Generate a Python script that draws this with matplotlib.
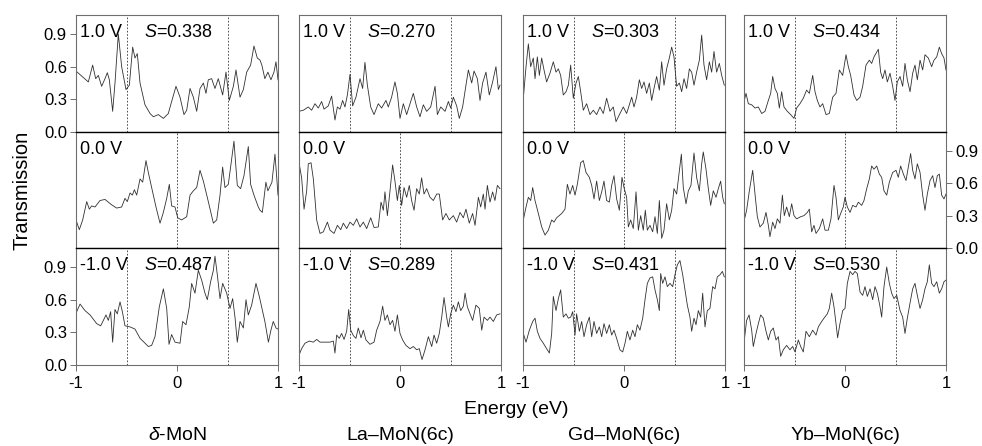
import matplotlib
matplotlib.use('Agg')
import matplotlib.pyplot as plt

plt.rcParams['font.family'] = ['Liberation Sans', 'DejaVu Sans']
plt.rcParams['mathtext.fontset'] = 'custom'
plt.rcParams['mathtext.rm'] = 'Liberation Sans'
plt.rcParams['mathtext.it'] = 'Liberation Sans:italic'

# ---- data: energy (eV) and transmission ----
# delta-MoN
dmon_e_p = [-1.00, -0.878, -0.835, -0.805, -0.779, -0.746, -0.713, -0.690, -0.670, -0.637,
            -0.614, -0.581, -0.548, -0.505, -0.472, -0.439, -0.416, -0.393, -0.366, -0.317,
            -0.267, -0.234, -0.185, -0.135, -0.086, -0.053, -0.010, 0.030, 0.069, 0.096,
            0.129, 0.162, 0.195, 0.228, 0.261, 0.287, 0.310, 0.343, 0.376, 0.409,
            0.452, 0.485, 0.518, 0.558, 0.584, 0.624, 0.657, 0.690, 0.729, 0.762,
            0.795, 0.822, 0.84, 0.87, 0.90, 0.93, 0.96, 0.98, 1.0]
dmon_t_p = [0.56, 0.46, 0.615, 0.49, 0.52, 0.42, 0.49, 0.545, 0.48, 0.19,
            0.45, 0.90, 0.60, 0.39, 0.43, 0.78, 0.68, 0.72, 0.45, 0.25,
            0.17, 0.14, 0.16, 0.125, 0.17, 0.28, 0.42, 0.32, 0.16, 0.20,
            0.40, 0.32, 0.19, 0.40, 0.45, 0.355, 0.48, 0.49, 0.40, 0.49,
            0.34, 0.55, 0.29, 0.42, 0.57, 0.32, 0.39, 0.55, 0.615, 0.79,
            0.68, 0.66, 0.615, 0.49, 0.55, 0.48, 0.55, 0.645, 0.48]
dmon_e_0 = [-0.993, -0.967, -0.934, -0.894, -0.868, -0.845, -0.812, -0.762, -0.713, -0.647,
            -0.597, -0.548, -0.515, -0.492, -0.465, -0.442, -0.422, -0.399, -0.366, -0.340,
            -0.307, -0.284, -0.251, -0.208, -0.168, -0.135, -0.102, -0.076, -0.053, -0.020,
            0.007, 0.046, 0.096, 0.129, 0.162, 0.195, 0.228, 0.261, 0.310, 0.360,
            0.393, 0.426, 0.452, 0.475, 0.508, 0.535, 0.564, 0.597, 0.630, 0.663,
            0.706, 0.729, 0.762, 0.805, 0.822, 0.845, 0.88, 0.90, 0.94, 0.97,
            0.99, 1.0]
dmon_t_0 = [0.24, 0.17, 0.26, 0.43, 0.36, 0.39, 0.38, 0.44, 0.45, 0.40,
            0.37, 0.38, 0.46, 0.43, 0.51, 0.49, 0.54, 0.49, 0.64, 0.61,
            0.81, 0.70, 0.56, 0.38, 0.23, 0.33, 0.46, 0.59, 0.39, 0.38,
            0.28, 0.26, 0.29, 0.49, 0.53, 0.56, 0.72, 0.62, 0.43, 0.23,
            0.26, 0.49, 0.75, 0.56, 0.59, 0.78, 0.99, 0.58, 0.55, 0.67,
            0.94, 0.59, 0.49, 0.38, 0.35, 0.33, 0.61, 0.53, 0.61, 0.87,
            0.62, 0.49]
dmon_e_m = [-0.993, -0.960, -0.911, -0.861, -0.795, -0.756, -0.729, -0.703, -0.680, -0.657,
            -0.637, -0.614, -0.591, -0.564, -0.541, -0.515, -0.465, -0.416, -0.366, -0.327,
            -0.284, -0.251, -0.218, -0.175, -0.135, -0.102, -0.079, -0.053, -0.020, 0.030,
            0.056, 0.089, 0.122, 0.145, 0.178, 0.211, 0.244, 0.277, 0.300, 0.333,
            0.360, 0.376, 0.399, 0.426, 0.452, 0.492, 0.525, 0.551, 0.574, 0.597,
            0.624, 0.657, 0.683, 0.706, 0.739, 0.782, 0.815, 0.87, 0.905, 0.93,
            0.953, 0.98, 1.0]
dmon_t_m = [0.49, 0.56, 0.50, 0.46, 0.38, 0.36, 0.41, 0.46, 0.41, 0.49,
            0.21, 0.51, 0.47, 0.58, 0.49, 0.36, 0.35, 0.33, 0.245, 0.21,
            0.17, 0.18, 0.26, 0.535, 0.70, 0.52, 0.19, 0.28, 0.21, 0.20,
            0.40, 0.37, 0.535, 0.75, 0.66, 0.87, 0.78, 0.66, 0.60, 0.765,
            0.87, 1.0, 0.83, 0.61, 0.75, 0.66, 0.52, 0.61, 0.44, 0.21,
            0.40, 0.34, 0.60, 0.46, 0.55, 0.75, 0.63, 0.40, 0.21, 0.32,
            0.40, 0.34, 0.33]

# La-MoN(6c)
la_e_p = [-1.0, -0.957, -0.908, -0.875, -0.842, -0.809, -0.776, -0.752, -0.710, -0.677,
          -0.644, -0.620, -0.594, -0.568, -0.545, -0.521, -0.495, -0.469, -0.436, -0.396,
          -0.370, -0.347, -0.323, -0.290, -0.257, -0.215, -0.182, -0.139, -0.116, -0.083,
          -0.050, -0.026, 0.0, 0.033, 0.066, 0.106, 0.132, 0.165, 0.198, 0.231,
          0.264, 0.304, 0.347, 0.370, 0.403, 0.446, 0.479, 0.502, 0.528, 0.561,
          0.587, 0.620, 0.653, 0.677, 0.710, 0.733, 0.766, 0.792, 0.818, 0.851,
          0.884, 0.917, 0.950, 0.974, 0.990]
la_t_p = [0.19, 0.20, 0.23, 0.20, 0.26, 0.22, 0.28, 0.21, 0.24, 0.33,
          0.11, 0.23, 0.21, 0.29, 0.23, 0.34, 0.53, 0.24, 0.32, 0.49,
          0.40, 0.64, 0.43, 0.23, 0.16, 0.26, 0.22, 0.29, 0.23, 0.32,
          0.46, 0.355, 0.125, 0.26, 0.16, 0.28, 0.355, 0.23, 0.14, 0.25,
          0.19, 0.23, 0.42, 0.16, 0.23, 0.19, 0.28, 0.22, 0.32, 0.24,
          0.125, 0.23, 0.43, 0.57, 0.45, 0.56, 0.49, 0.29, 0.45, 0.55,
          0.34, 0.46, 0.60, 0.39, 0.43]
la_e_0 = [-1.0, -0.974, -0.950, -0.924, -0.908, -0.881, -0.858, -0.825, -0.792, -0.759,
          -0.719, -0.693, -0.653, -0.620, -0.587, -0.561, -0.528, -0.495, -0.462, -0.429,
          -0.396, -0.363, -0.330, -0.290, -0.257, -0.215, -0.188, -0.165, -0.149, -0.125,
          -0.099, -0.073, -0.050, -0.026, -0.007, 0.016, 0.040, 0.066, 0.092, 0.115,
          0.139, 0.165, 0.191, 0.214, 0.238, 0.264, 0.297, 0.330, 0.363, 0.389,
          0.422, 0.455, 0.488, 0.528, 0.561, 0.594, 0.627, 0.653, 0.686, 0.719,
          0.743, 0.776, 0.799, 0.825, 0.842, 0.865, 0.891, 0.917, 0.940, 0.964,
          0.990]
la_t_0 = [0.79, 0.65, 0.36, 0.53, 0.78, 0.79, 0.64, 0.26, 0.135, 0.15,
          0.24, 0.165, 0.135, 0.21, 0.17, 0.23, 0.18, 0.24, 0.21, 0.27,
          0.195, 0.24, 0.18, 0.28, 0.19, 0.195, 0.425, 0.35, 0.52, 0.30,
          0.53, 0.77, 0.62, 0.44, 0.58, 0.395, 0.56, 0.47, 0.58, 0.44,
          0.35, 0.55, 0.50, 0.65, 0.50, 0.55, 0.47, 0.44, 0.50, 0.50,
          0.26, 0.32, 0.26, 0.30, 0.24, 0.33, 0.28, 0.36, 0.23, 0.32,
          0.21, 0.47, 0.38, 0.50, 0.36, 0.58, 0.425, 0.52, 0.44, 0.58,
          0.55]
la_e_m = [-1.0, -0.974, -0.941, -0.898, -0.858, -0.825, -0.792, -0.743, -0.693, -0.660,
          -0.644, -0.627, -0.601, -0.578, -0.554, -0.528, -0.508, -0.488, -0.462, -0.436,
          -0.413, -0.386, -0.363, -0.337, -0.297, -0.257, -0.231, -0.198, -0.172, -0.149,
          -0.125, -0.099, -0.073, -0.050, -0.026, 0.0, 0.026, 0.059, 0.099, 0.132,
          0.165, 0.191, 0.218, 0.248, 0.281, 0.314, 0.337, 0.363, 0.389, 0.413,
          0.436, 0.462, 0.479, 0.502, 0.528, 0.554, 0.578, 0.601, 0.627, 0.644,
          0.667, 0.693, 0.719, 0.752, 0.785, 0.809, 0.832, 0.865, 0.891, 0.924,
          0.957, 0.990]
la_t_m = [0.09, 0.15, 0.20, 0.22, 0.21, 0.235, 0.21, 0.21, 0.21, 0.22,
          0.11, 0.275, 0.245, 0.29, 0.235, 0.31, 0.51, 0.32, 0.27, 0.245,
          0.34, 0.25, 0.32, 0.23, 0.19, 0.21, 0.32, 0.40, 0.54, 0.41,
          0.46, 0.37, 0.41, 0.31, 0.46, 0.29, 0.23, 0.18, 0.15, 0.17,
          0.14, 0.15, 0.05, 0.14, 0.26, 0.17, 0.275, 0.20, 0.29, 0.44,
          0.62, 0.44, 0.35, 0.47, 0.55, 0.49, 0.58, 0.50, 0.54, 0.66,
          0.535, 0.47, 0.41, 0.55, 0.52, 0.32, 0.44, 0.41, 0.44, 0.40,
          0.46, 0.47]

# Gd-MoN(6c)
gd_e_p = [-0.997, -0.970, -0.947, -0.924, -0.898, -0.881, -0.858, -0.838, -0.815, -0.792,
          -0.766, -0.733, -0.700, -0.673, -0.650, -0.627, -0.601, -0.574, -0.551, -0.528,
          -0.502, -0.475, -0.452, -0.429, -0.403, -0.370, -0.337, -0.304, -0.271, -0.238,
          -0.205, -0.172, -0.139, -0.106, -0.079, -0.040, -0.007, 0.026, 0.053, 0.076,
          0.099, 0.125, 0.152, 0.175, 0.198, 0.224, 0.251, 0.274, 0.297, 0.323,
          0.350, 0.373, 0.396, 0.422, 0.449, 0.472, 0.495, 0.521, 0.548, 0.571,
          0.594, 0.620, 0.647, 0.670, 0.693, 0.719, 0.746, 0.769, 0.792, 0.818,
          0.845, 0.868, 0.891, 0.917, 0.944, 0.967, 0.993]
gd_t_p = [0.31, 0.60, 0.81, 0.60, 0.68, 0.49, 0.69, 0.52, 0.68, 0.57,
          0.46, 0.54, 0.645, 0.55, 0.58, 0.52, 0.34, 0.37, 0.43, 0.615,
          0.31, 0.45, 0.51, 0.37, 0.20, 0.26, 0.16, 0.20, 0.16, 0.23,
          0.17, 0.31, 0.19, 0.23, 0.095, 0.17, 0.23, 0.17, 0.25, 0.32,
          0.23, 0.32, 0.48, 0.40, 0.46, 0.355, 0.45, 0.29, 0.40, 0.51,
          0.385, 0.645, 0.43, 0.58, 0.68, 0.78, 0.69, 0.42, 0.45, 0.37,
          0.49, 0.40, 0.58, 0.55, 0.43, 0.55, 0.66, 0.89, 0.615, 0.48,
          0.645, 0.55, 0.74, 0.55, 0.63, 0.52, 0.43]
gd_e_0 = [-0.997, -0.970, -0.947, -0.924, -0.904, -0.881, -0.848, -0.815, -0.782, -0.749,
          -0.716, -0.693, -0.667, -0.617, -0.584, -0.561, -0.535, -0.508, -0.485, -0.462,
          -0.429, -0.403, -0.376, -0.343, -0.320, -0.297, -0.271, -0.244, -0.221, -0.198,
          -0.172, -0.145, -0.122, -0.099, -0.073, -0.046, -0.020, 0.000, 0.026, 0.043,
          0.066, 0.092, 0.119, 0.142, 0.165, 0.191, 0.211, 0.231, 0.257, 0.284,
          0.307, 0.330, 0.350, 0.373, 0.396, 0.422, 0.449, 0.472, 0.495, 0.521,
          0.548, 0.568, 0.587, 0.614, 0.637, 0.663, 0.693, 0.719, 0.746, 0.769,
          0.785, 0.812, 0.835, 0.858, 0.884, 0.911, 0.934, 0.957, 0.977, 0.993]
gd_t_0 = [0.26, 0.38, 0.47, 0.44, 0.56, 0.44, 0.32, 0.195, 0.12, 0.165,
          0.26, 0.24, 0.28, 0.32, 0.36, 0.59, 0.50, 0.58, 0.49, 0.59,
          0.79, 0.81, 0.70, 0.655, 0.58, 0.455, 0.62, 0.44, 0.52, 0.62,
          0.44, 0.425, 0.58, 0.67, 0.455, 0.35, 0.655, 0.56, 0.47, 0.195,
          0.26, 0.18, 0.52, 0.165, 0.30, 0.165, 0.35, 0.165, 0.21, 0.15,
          0.29, 0.135, 0.44, 0.09, 0.165, 0.41, 0.26, 0.35, 0.55, 0.50,
          0.715, 0.87, 0.56, 0.41, 0.53, 0.58, 0.88, 0.655, 0.53, 0.78,
          0.89, 0.73, 0.55, 0.395, 0.53, 0.47, 0.55, 0.62, 0.47, 0.41]
gd_e_m = [-0.997, -0.970, -0.937, -0.904, -0.881, -0.858, -0.832, -0.799, -0.766, -0.739,
          -0.716, -0.700, -0.673, -0.650, -0.627, -0.601, -0.574, -0.551, -0.528, -0.508,
          -0.485, -0.469, -0.442, -0.419, -0.396, -0.370, -0.343, -0.320, -0.297, -0.271,
          -0.244, -0.221, -0.198, -0.172, -0.145, -0.122, -0.099, -0.073, -0.040, -0.013,
          0.010, 0.033, 0.059, 0.086, 0.109, 0.132, 0.158, 0.185, 0.208, 0.231,
          0.257, 0.284, 0.307, 0.330, 0.350, 0.363, 0.383, 0.406, 0.429, 0.455,
          0.482, 0.505, 0.528, 0.554, 0.581, 0.604, 0.627, 0.653, 0.670, 0.693,
          0.713, 0.736, 0.759, 0.779, 0.802, 0.825, 0.851, 0.878, 0.901, 0.924,
          0.951, 0.974, 0.993]
gd_t_m = [0.29, 0.21, 0.32, 0.40, 0.43, 0.31, 0.245, 0.20, 0.15, 0.11,
          0.29, 0.63, 0.50, 0.61, 0.69, 0.44, 0.47, 0.43, 0.44, 0.49,
          0.275, 0.47, 0.31, 0.40, 0.26, 0.37, 0.44, 0.26, 0.40, 0.29,
          0.35, 0.26, 0.38, 0.29, 0.37, 0.275, 0.32, 0.245, 0.14, 0.12,
          0.20, 0.31, 0.23, 0.32, 0.26, 0.37, 0.32, 0.43, 0.60, 0.75,
          0.80, 0.81, 0.69, 0.60, 0.50, 0.84, 0.75, 0.81, 0.72, 0.75,
          0.72, 0.83, 0.92, 0.96, 0.83, 0.69, 0.55, 0.44, 0.31, 0.43,
          0.37, 0.50, 0.44, 0.66, 0.35, 0.50, 0.52, 0.72, 0.70, 0.81,
          0.83, 0.86, 0.81]

# Yb-MoN(6c)
yb_e_p = [-0.997, -0.980, -0.957, -0.924, -0.891, -0.858, -0.825, -0.792, -0.759, -0.736,
          -0.716, -0.693, -0.670, -0.650, -0.627, -0.604, -0.571, -0.538, -0.505, -0.479,
          -0.446, -0.413, -0.380, -0.353, -0.320, -0.297, -0.274, -0.248, -0.221, -0.188,
          -0.155, -0.122, -0.089, -0.056, -0.023, 0.010, 0.033, 0.056, 0.089, 0.116,
          0.149, 0.175, 0.208, 0.241, 0.264, 0.287, 0.330, 0.353, 0.373, 0.396,
          0.419, 0.446, 0.472, 0.495, 0.518, 0.545, 0.571, 0.594, 0.617, 0.644,
          0.670, 0.693, 0.716, 0.743, 0.769, 0.792, 0.825, 0.858, 0.881, 0.908,
          0.934, 0.957, 0.980, 1.000]
yb_t_p = [0.29, 0.355, 0.26, 0.25, 0.22, 0.23, 0.17, 0.19, 0.29, 0.355,
          0.51, 0.40, 0.355, 0.22, 0.37, 0.23, 0.19, 0.16, 0.125, 0.22,
          0.26, 0.31, 0.385, 0.355, 0.52, 0.37, 0.29, 0.23, 0.26, 0.16,
          0.17, 0.32, 0.355, 0.57, 0.52, 0.71, 0.60, 0.52, 0.34, 0.29,
          0.32, 0.42, 0.615, 0.66, 0.63, 0.69, 0.76, 0.55, 0.49, 0.57,
          0.46, 0.54, 0.42, 0.29, 0.46, 0.51, 0.42, 0.63, 0.48, 0.37,
          0.54, 0.615, 0.48, 0.66, 0.57, 0.71, 0.68, 0.60, 0.66, 0.69,
          0.78, 0.72, 0.68, 0.57]
yb_e_0 = [-0.997, -0.974, -0.947, -0.914, -0.891, -0.868, -0.842, -0.809, -0.782, -0.759,
          -0.743, -0.716, -0.693, -0.670, -0.644, -0.620, -0.601, -0.578, -0.551, -0.528,
          -0.505, -0.479, -0.439, -0.406, -0.373, -0.353, -0.330, -0.307, -0.287, -0.254,
          -0.221, -0.198, -0.165, -0.139, -0.109, -0.089, -0.066, -0.043, -0.017, 0.0,
          0.023, 0.050, 0.076, 0.109, 0.132, 0.165, 0.188, 0.215, 0.241, 0.264,
          0.287, 0.314, 0.340, 0.363, 0.386, 0.413, 0.439, 0.472, 0.505, 0.528,
          0.551, 0.578, 0.604, 0.627, 0.650, 0.670, 0.693, 0.716, 0.743, 0.769,
          0.792, 0.815, 0.842, 0.868, 0.891, 0.914, 0.934, 0.957, 0.980, 1.000]
yb_t_0 = [0.26, 0.35, 0.53, 0.72, 0.50, 0.29, 0.195, 0.23, 0.33, 0.21,
          0.105, 0.24, 0.18, 0.27, 0.23, 0.49, 0.30, 0.38, 0.29, 0.41,
          0.30, 0.27, 0.29, 0.30, 0.33, 0.36, 0.15, 0.21, 0.135, 0.18,
          0.27, 0.165, 0.165, 0.27, 0.58, 0.47, 0.26, 0.32, 0.38, 0.47,
          0.38, 0.33, 0.395, 0.38, 0.425, 0.395, 0.44, 0.55, 0.64, 0.76,
          0.73, 0.76, 0.685, 0.655, 0.53, 0.49, 0.61, 0.70, 0.72, 0.655,
          0.76, 0.685, 0.625, 0.75, 0.875, 0.72, 0.64, 0.78, 0.70, 0.49,
          0.35, 0.50, 0.625, 0.67, 0.56, 0.67, 0.685, 0.49, 0.455, 0.50]
yb_e_m = [-0.997, -0.974, -0.950, -0.924, -0.908, -0.881, -0.858, -0.835, -0.809, -0.782,
          -0.759, -0.736, -0.710, -0.683, -0.660, -0.637, -0.611, -0.578, -0.545, -0.518,
          -0.495, -0.462, -0.439, -0.413, -0.386, -0.353, -0.320, -0.287, -0.264, -0.231,
          -0.208, -0.175, -0.155, -0.132, -0.109, -0.089, -0.073, -0.050, -0.023, 0.0,
          0.023, 0.050, 0.076, 0.099, 0.122, 0.149, 0.175, 0.198, 0.221, 0.248,
          0.274, 0.297, 0.320, 0.347, 0.363, 0.386, 0.413, 0.439, 0.462, 0.485,
          0.512, 0.545, 0.571, 0.594, 0.617, 0.644, 0.670, 0.693, 0.716, 0.743,
          0.769, 0.792, 0.815, 0.835, 0.858, 0.881, 0.908, 0.934, 0.957, 0.980,
          1.000]
yb_t_m = [0.23, 0.41, 0.46, 0.32, 0.17, 0.29, 0.38, 0.46, 0.43, 0.31,
          0.23, 0.31, 0.34, 0.23, 0.26, 0.08, 0.14, 0.18, 0.14, 0.17,
          0.12, 0.23, 0.17, 0.12, 0.31, 0.26, 0.32, 0.275, 0.35, 0.40,
          0.43, 0.47, 0.52, 0.66, 0.535, 0.38, 0.25, 0.38, 0.50, 0.52,
          0.75, 0.86, 0.83, 0.86, 0.84, 0.67, 0.64, 0.72, 0.63, 0.70,
          0.60, 0.72, 0.66, 0.535, 0.44, 0.72, 0.90, 0.75, 0.66, 0.61,
          0.64, 0.50, 0.44, 0.29, 0.43, 0.57, 0.70, 0.75, 0.64, 0.52,
          0.60, 0.70, 0.765, 0.92, 0.75, 0.72, 0.765, 0.66, 0.70, 0.765,
          0.78]

systems = [r'$\delta$-MoN', 'La\u2013MoN(6c)', 'Gd\u2013MoN(6c)', 'Yb\u2013MoN(6c)']
biases = ['1.0 V', '0.0 V', '-1.0 V']
s_top = ['0.338', '0.270', '0.303', '0.434']
s_bottom = ['0.487', '0.289', '0.431', '0.530']
curves = [
    [(dmon_e_p, dmon_t_p), (la_e_p, la_t_p), (gd_e_p, gd_t_p), (yb_e_p, yb_t_p)],
    [(dmon_e_0, dmon_t_0), (la_e_0, la_t_0), (gd_e_0, gd_t_0), (yb_e_0, yb_t_0)],
    [(dmon_e_m, dmon_t_m), (la_e_m, la_t_m), (gd_e_m, gd_t_m), (yb_e_m, yb_t_m)],
]

W, H = 982, 446
fig = plt.figure(figsize=(W / 100, H / 100), dpi=100)

col_left = [76, 299, 523, 744]
col_w = 202
row_top = [15, 132, 248]
row_h = [117, 116, 117]
spine_gray = '#6e6e6e'
yticks = [0.0, 0.3, 0.6, 0.9]

for r in range(3):
    for c in range(4):
        ax = fig.add_axes([col_left[c] / W, 1 - (row_top[r] + row_h[r]) / H,
                           col_w / W, row_h[r] / H])
        e, t = curves[r][c]
        ax.plot(e, t, color='#303030', lw=0.6)
        ax.set_xlim(-1, 1)
        ax.set_ylim(0, 1.075)

        marks = [0.0] if r == 1 else [-0.5, 0.5]
        for m in marks:
            ax.axvline(m, color='#333333', lw=0.6, ls=(0, (2, 2)))

        for s in ax.spines.values():
            s.set_color(spine_gray)
            s.set_linewidth(0.8)
        if r > 0:
            ax.spines['top'].set_color('black')
            ax.spines['top'].set_linewidth(1.0)

        ax.tick_params(colors=spine_gray, labelcolor='black', labelsize=12,
                       direction='out', length=4, width=0.7, pad=2.5)
        if r == 2:
            ax.set_xticks([-1, 0, 1])
            ax.set_xticklabels(['-1', '0', '1'])
            ax.tick_params(axis='x', pad=4)
        else:
            ax.set_xticks([])

        if c == 0 and r != 1:
            ax.set_yticks(yticks)
            ax.set_yticklabels(['%.1f' % v for v in yticks])
        elif c == 3 and r == 1:
            ax.yaxis.tick_right()
            ax.set_yticks(yticks)
            ax.set_yticklabels(['%.1f' % v for v in yticks])
        else:
            ax.set_yticks([])

        ax.text(0.02, 0.81, biases[r], transform=ax.transAxes, fontsize=13,
                va='baseline', ha='left')
        if r == 0:
            ax.text(0.335, 0.81, r'$\mathit{S}$=' + s_top[c], transform=ax.transAxes,
                    fontsize=13, va='baseline', ha='left')
        elif r == 2:
            ax.text(0.335, 0.81, r'$\mathit{S}$=' + s_bottom[c], transform=ax.transAxes,
                    fontsize=13, va='baseline', ha='left')

for c in range(4):
    fig.text((col_left[c] + col_w / 2) / W, 1 - 435 / H, systems[c],
             ha='center', va='center', fontsize=14)

fig.text(22 / W, 1 - 190 / H, 'Transmission', rotation=90,
         ha='center', va='center', fontsize=14.5)
fig.text(516 / W, 1 - 410 / H, 'Energy (eV)', ha='center', va='center', fontsize=14)

fig.savefig('out.png', dpi=100)
